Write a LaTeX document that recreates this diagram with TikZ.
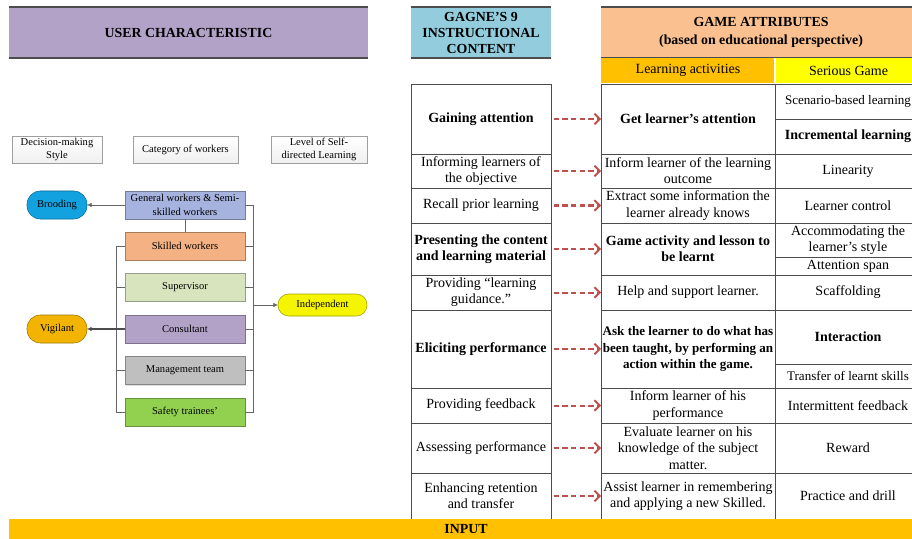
\documentclass[tikz,border=0pt]{standalone}
\usepackage{fontspec}
\setmainfont{Liberation Serif}
\usetikzlibrary{arrows.meta,shadows}
\definecolor{userhdr}{HTML}{B3A2C7}
\definecolor{gagnehdr}{HTML}{93CDDD}
\definecolor{gamehdr}{HTML}{FAC090}
\definecolor{lacol}{HTML}{FFC000}
\definecolor{sgcol}{HTML}{FFFF00}
\definecolor{redarr}{HTML}{C0504D}
\definecolor{gencol}{HTML}{A5B3DE}
\definecolor{skillcol}{HTML}{F4B183}
\definecolor{supcol}{HTML}{D7E4BD}
\definecolor{conscol}{HTML}{B3A2C7}
\definecolor{mgmtcol}{HTML}{BFBFBF}
\definecolor{safecol}{HTML}{92D050}
\definecolor{broodcol}{HTML}{12A2E0}
\definecolor{vigcol}{HTML}{F2B400}
\definecolor{indepcol}{HTML}{F5F500}
\newcommand\tfont{\fontsize{10.5}{12.2}\selectfont}
\newcommand\sfontx{\fontsize{7.9}{10}\selectfont}
\newcommand\tcell[6][]{%
  \node[tcell,#1,minimum width={(#4-#2)*0.75pt},minimum height={(#5-#3)*0.75pt}]
    (#6) at ({(#2+#4)/2},{(#3+#5)/2})}
\begin{document}
\begin{tikzpicture}[x=0.75pt,y=-0.75pt,
  tcell/.style={draw=black!70,line width=0.6pt,inner sep=0pt,outer sep=0pt,align=center,font=\tfont},
  bcell/.style={font=\tfont\bfseries},
  hdrbox/.style={inner sep=0pt,outer sep=0pt,align=center,font=\fontsize{10.4}{12}\selectfont\bfseries},
  redarrow/.style={draw=redarr,line width=1.5pt,dash pattern=on 4pt off 2.5pt,
     -{Straight Barb[length=4pt,width=8pt,line width=1.4pt]},shorten <=2pt},
  lblbox/.style={draw=gray!75,top color=white,bottom color=gray!12,inner sep=0pt,outer sep=0pt,
     align=center,font=\sfontx,minimum width=#1,minimum height=20pt,
     drop shadow={shadow xshift=0.8pt,shadow yshift=-0.8pt,opacity=0.25}},
  catbox/.style={draw=#1!70!black,fill=#1,inner sep=0pt,outer sep=0pt,align=center,font=\sfontx,
     minimum width=90pt,minimum height=21pt,
     drop shadow={shadow xshift=0.8pt,shadow yshift=-0.8pt,opacity=0.25}},
  pill/.style={draw=#1!65!black,fill=#1,rounded corners=10pt,inner sep=0pt,outer sep=0pt,
     font=\sfontx,minimum width=45pt,minimum height=21pt},
  conn/.style={draw=gray!80!black,line width=0.6pt},
  carrow/.style={conn,-{Latex[length=3.5pt,width=3.5pt]}},
]
\useasboundingbox (0,0) rectangle (912,538);
\clip (0,0) rectangle (912,538);

% ---------- headers ----------
\node[hdrbox,fill=userhdr,minimum width={359*0.75pt},minimum height={51*0.75pt}] (userh) at (188.5,32.5) {USER CHARACTERISTIC};
\draw[black!70,line width=0.8pt] (userh.north west) -- (userh.north east) (userh.south west) -- (userh.south east);

\node[hdrbox,fill=gagnehdr,minimum width={140*0.75pt},minimum height={51*0.75pt}] (gagneh) at (481,32.5) {GAGNE’S 9\\INSTRUCTIONAL\\CONTENT};
\draw[black!70,line width=0.8pt] (gagneh.north west) -- (gagneh.north east) (gagneh.south west) -- (gagneh.south east);

\node[hdrbox,fill=gamehdr,minimum width={320*0.75pt},minimum height={51*0.75pt}] (gameh) at (761,32.5) {GAME ATTRIBUTES\\[1pt](based on educational perspective)};
\draw[black!70,line width=0.8pt] (gameh.north west) -- (gameh.north east) (gameh.south west) -- (gameh.south east);

\node[inner sep=0pt,outer sep=0pt,fill=lacol,minimum width={174*0.75pt},minimum height={25*0.75pt},font=\tfont] (lah) at (688,70.5) {Learning activities};
\node[inner sep=0pt,outer sep=0pt,fill=sgcol,minimum width={145*0.75pt},minimum height={25*0.75pt},font=\tfont] (sgh) at (848.5,70.5) {Serious Game};
\draw[white,line width=0.8pt] (lah.north east) -- (lah.south east);

% ---------- left column (Gagne) ----------
\tcell[bcell]{411}{84}{551}{154}{L1} {Gaining attention};
\tcell{411}{154}{551}{188}{L2} {Informing learners of\\the objective};
\tcell{411}{188}{551}{223}{L3} {Recall prior learning};
\tcell[bcell]{411}{223}{551}{275}{L4} {Presenting the content\\and learning material};
\tcell{411}{275}{551}{310}{L5} {Providing “learning\\guidance.”};
\tcell[bcell]{411}{310}{551}{388}{L6} {Eliciting performance};
\tcell{411}{388}{551}{423}{L7} {Providing feedback};
\tcell{411}{423}{551}{473}{L8} {Assessing performance};
\tcell{411}{473}{551}{519}{L9} {Enhancing retention\\and transfer};

% ---------- middle column (learning activities) ----------
\tcell[bcell]{601}{84}{775}{154}{M1} {Get learner’s attention};
\tcell{601}{154}{775}{188}{M2} {Inform learner of the learning\\outcome};
\tcell{601}{188}{775}{223}{M3} {Extract some information the\\learner already knows};
\tcell[bcell]{601}{223}{775}{275}{M4} {Game activity and lesson to\\be learnt};
\tcell{601}{275}{775}{310}{M5} {Help and support learner.};
\tcell[font=\fontsize{9.8}{12.2}\selectfont\bfseries]{601}{310}{775}{388}{M6} {Ask the learner to do what has\\been taught, by performing an\\action within the game.};
\tcell{601}{388}{775}{423}{M7} {Inform learner of his\\performance};
\tcell{601}{423}{775}{473}{M8} {Evaluate learner on his\\knowledge of the subject\\matter.};
\tcell{601}{473}{775}{519}{M9} {Assist learner in remembering\\and applying a new Skilled.};

% ---------- right column (serious game) ----------
\tcell[font=\fontsize{9.8}{12}\selectfont]{775}{84}{921}{119}{S1} {Scenario-based learning};
\tcell[bcell]{775}{119}{921}{154}{S2} {Incremental learning};
\tcell{775}{154}{921}{188}{S3} {Linearity};
\tcell{775}{188}{921}{223}{S4} {Learner control};
\tcell{775}{223}{921}{257}{S5} {Accommodating the\\learner’s style};
\tcell{775}{257}{921}{275}{S6} {Attention span};
\tcell{775}{275}{921}{310}{S7} {Scaffolding};
\tcell[bcell]{775}{310}{921}{364}{S8} {Interaction};
\tcell[font=\fontsize{9.8}{12}\selectfont]{775}{364}{921}{388}{S9} {Transfer of learnt skills};
\tcell{775}{388}{921}{423}{S10} {Intermittent feedback};
\tcell{775}{423}{921}{473}{S11} {Reward};
\tcell{775}{473}{921}{519}{S12} {Practice and drill};

% ---------- red dashed arrows ----------
\foreach \i in {1,...,9} {\draw[redarrow] (L\i.east) -- (M\i.west);}

% ---------- input bar ----------
\node[fill=lacol,inner sep=0pt,outer sep=0pt,minimum width={912*0.75pt},minimum height={20*0.75pt},anchor=north west] (inbar) at (9,519) {};
\node[font=\fontsize{10.4}{12}\selectfont\bfseries,inner sep=0pt] (intxt) at (466,529.5) {INPUT};

% ---------- left diagram ----------
\node[lblbox=67.5pt] (dms) at (57,149.5) {Decision-making\\Style};
\node[lblbox=78.75pt] (cow) at (185.5,149.5) {Category of workers};
\node[lblbox=72pt] (lsd) at (319,149.5) {Level of Self-\\directed Learning};

\node[catbox=gencol] (gen) at (185,205) {General workers \& Semi-\\skilled workers};
\node[catbox=skillcol] (skill) at (185,246) {Skilled workers};
\node[catbox=supcol] (sup) at (185,287) {Supervisor};
\node[catbox=conscol] (cons) at (185,329) {Consultant};
\node[catbox=mgmtcol] (mgmt) at (185,370.5) {Management team};
\node[catbox=safecol] (safe) at (185,412) {Safety trainees’};

\node[pill=broodcol] (brood) at (57,205) {Brooding};
\node[pill=vigcol] (vig) at (57,329) {Vigilant};
\node[pill=indepcol,minimum width=66.75pt,minimum height=16.5pt,rounded corners=8pt] (indep) at (322.5,305) {Independent};

\coordinate (lbT) at (116,246);
\coordinate (lbB) at (116,412);
\coordinate (rbT) at (253,205);
\coordinate (rbB) at (253,412);

\draw[carrow] (gen.west) -- (brood.east);
\draw[conn] (gen.south) -- (skill.north);
\draw[conn] (skill.west) -- (lbT) -- (lbB) -- (safe.west);
\draw[conn] (sup.west) -- (sup.west -| lbT);
\draw[conn] (mgmt.west) -- (mgmt.west -| lbT);
\draw[carrow,draw=black!70,line width=0.9pt] (cons.west) -- (vig.east);
\draw[conn] (gen.east) -- (rbT) -- (rbB) -- (safe.east);
\foreach \n in {skill,sup,cons,mgmt} {\draw[conn] (\n.east) -- (\n.east -| rbT);}
\draw[carrow] (indep.west -| rbT) -- (indep.west);
\end{tikzpicture}
\end{document}
